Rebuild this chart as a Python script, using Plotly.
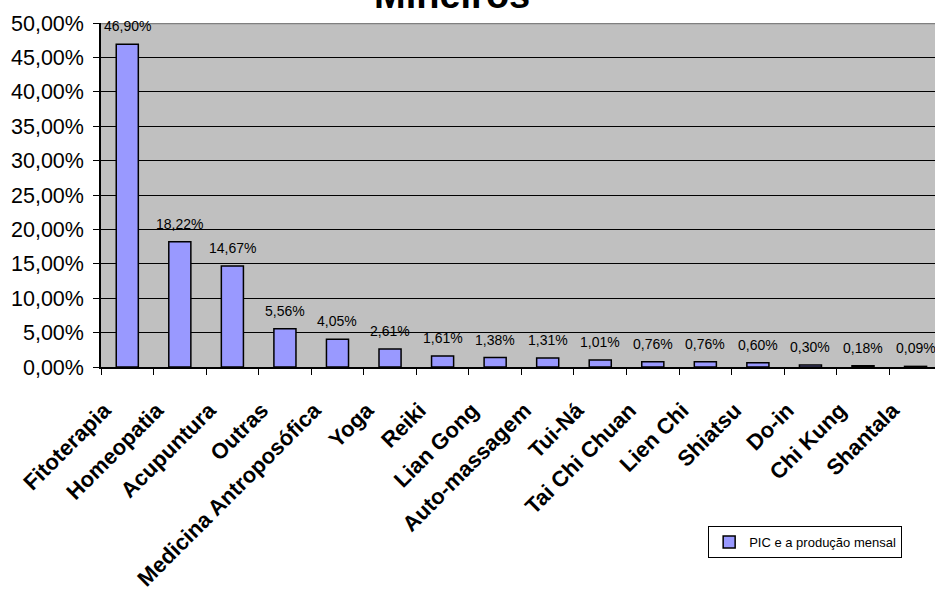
import plotly.graph_objects as go

# Practices and their share of monthly production (%)
categorias = [
    "Fitoterapia", "Homeopatia", "Acupuntura", "Outras", "Medicina Antroposófica",
    "Yoga", "Reiki", "Lian Gong", "Auto-massagem", "Tui-Ná", "Tai Chi Chuan",
    "Lien Chi", "Shiatsu", "Do-in", "Chi Kung", "Shantala",
]
percentuais = [46.90, 18.22, 14.67, 5.56, 4.05, 2.61, 1.61, 1.38, 1.31, 1.01,
               0.76, 0.76, 0.60, 0.30, 0.18, 0.09]
nome_serie = "PIC e a produção mensal"
titulo = "Mineiros"
y_ticks = [0, 5, 10, 15, 20, 25, 30, 35, 40, 45, 50]

FONTE = "Liberation Sans, Arial"


def fmt_pct(v):
    return f"{v:.2f}".replace(".", ",") + "%"


fig = go.Figure()
fig.add_trace(go.Bar(
    x=categorias,
    y=percentuais,
    name=nome_serie,
    marker=dict(color="#9999FF", line=dict(color="black", width=1.5)),
    showlegend=True,
))

# value labels above each bar
for c, v in zip(categorias, percentuais):
    fig.add_annotation(
        x=c, y=v, text=fmt_pct(v), showarrow=False,
        xref="x", yref="y", yanchor="middle", yshift=18,
        font=dict(family=FONTE, size=14, color="black"),
    )

# chart title (last line, top edge of page)
fig.add_annotation(
    x=0.421, xref="paper", y=1.0, yref="paper", text=f"<b>{titulo}</b>",
    showarrow=False, yanchor="middle", yshift=28,
    font=dict(family=FONTE, size=38, color="black"),
)

fig.update_layout(
    width=935, height=591,
    margin=dict(l=101, r=0, t=23, b=222),
    paper_bgcolor="white",
    plot_bgcolor="#C0C0C0",
    bargap=0.58,
    font=dict(family=FONTE, color="black"),
    showlegend=True,
    legend=dict(
        x=0.728, xanchor="left", y=-0.462, yanchor="top",
        bordercolor="black", borderwidth=1, bgcolor="white",
        font=dict(size=13), itemwidth=30,
    ),
)

fig.update_xaxes(
    type="category",
    range=[-0.5, 15.37],
    tickangle=-45,
    tickfont=dict(family=FONTE, size=22, color="black"),
    ticks="outside", ticklen=6, tickcolor="black", tickson="boundaries",
    ticklabelshift=-23, ticklabelstandoff=20,
    showline=True, linecolor="black", linewidth=1.5,
    showgrid=False,
    tickvals=categorias,
    ticktext=[f"<b>{c}</b>" for c in categorias],
)

fig.update_yaxes(
    range=[0, 50],
    tickvals=y_ticks,
    ticktext=[fmt_pct(t) for t in y_ticks],
    tickfont=dict(family=FONTE, size=21.5, color="black"),
    ticks="outside", ticklen=6, tickcolor="black",
    ticklabelstandoff=5,
    showline=True, linecolor="black", linewidth=1.5,
    showgrid=True, gridcolor="black", gridwidth=1.2,
    zeroline=False,
)

# grey top border of the plotting area
fig.add_shape(type="line", xref="paper", yref="y", x0=0, x1=1, y0=50, y1=50,
              line=dict(color="#808080", width=2.5), layer="above")

fig.write_html("out.html")
